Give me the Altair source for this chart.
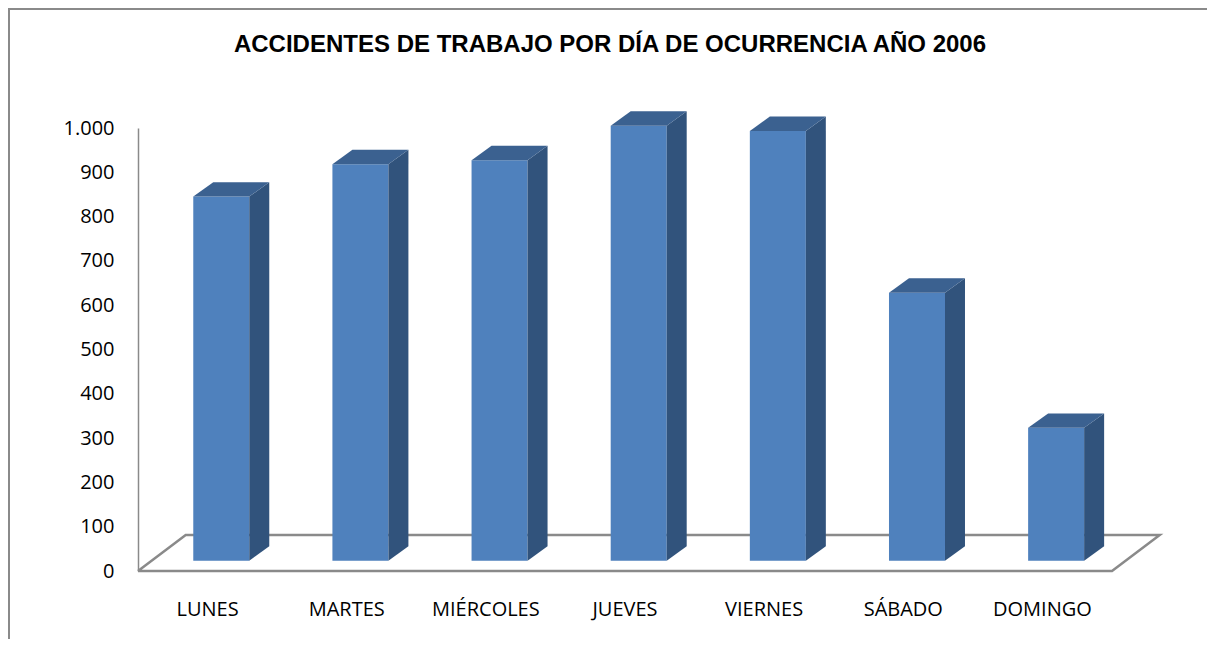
import altair as alt
import pandas as pd

# ---- data ----
dias = ["LUNES", "MARTES", "MIÉRCOLES", "JUEVES", "VIERNES", "SÁBADO", "DOMINGO"]
valores = [822, 895, 904, 982, 970, 605, 300]
y_ticks = [0, 100, 200, 300, 400, 500, 600, 700, 800, 900, 1000]
titulo = "ACCIDENTES DE TRABAJO POR DÍA DE OCURRENCIA AÑO 2006"

# ---- geometry / style (pixels) ----
W, H = 974, 443
YMAX = 1000
n = len(dias)
ux = W / n          # px per category unit
uy = H / YMAX       # px per value unit

bar_half = 28 / ux
bar_ox = 13.7 / ux
bar_oy = 10.3 / uy
dep_dx = 20 / ux
dep_dy = 14.4 / uy
floor_dx = 47.7 / ux
floor_dy = 36 / uy

FRONT = "#4F81BD"
TOP = "#3B6190"
SIDE = "#31537C"
GRAY = "#8A8A8A"

xs = alt.Scale(domain=[0, n], nice=False, zero=False)
ys = alt.Scale(domain=[0, YMAX], nice=False)

# front faces
front = pd.DataFrame({
    "dia": dias,
    "x": [i + 0.5 - bar_half + bar_ox for i in range(n)],
    "x2": [i + 0.5 + bar_half + bar_ox for i in range(n)],
    "y": [bar_oy] * n,
    "y2": [bar_oy + v for v in valores],
})

# side faces (two points per bar)
side_rows = []
for i, (d, v) in enumerate(zip(dias, valores)):
    xr = i + 0.5 + bar_half + bar_ox
    side_rows.append({"dia": d, "x": xr, "y": bar_oy, "y2": bar_oy + v})
    side_rows.append({"dia": d, "x": xr + dep_dx, "y": bar_oy + dep_dy, "y2": bar_oy + v + dep_dy})
side = pd.DataFrame(side_rows)

# top faces (two points per bar, horizontal orientation)
top_rows = []
for i, (d, v) in enumerate(zip(dias, valores)):
    xl = i + 0.5 - bar_half + bar_ox
    xr = i + 0.5 + bar_half + bar_ox
    top_rows.append({"dia": d, "y": bar_oy + v, "x": xl, "x2": xr})
    top_rows.append({"dia": d, "y": bar_oy + v + dep_dy, "x": xl + dep_dx, "x2": xr + dep_dx})
topf = pd.DataFrame(top_rows)

# floor outline
floor = pd.DataFrame({
    "x": [0, n, n + floor_dx, floor_dx, 0],
    "y": [0, 0, floor_dy, floor_dy, 0],
    "o": [0, 1, 2, 3, 4],
})

labels = pd.DataFrame({"dia": dias, "pos": [i + 0.5 for i in range(n)], "y": [0] * n})
title_df = pd.DataFrame({"t": [titulo]})

floor_layer = alt.Chart(floor).mark_line(color=GRAY, strokeWidth=2.5).encode(
    x=alt.X("x:Q", scale=xs, axis=None),
    y=alt.Y("y:Q", scale=ys),
    order="o:Q",
)

front_layer = alt.Chart(front).mark_rect(color=FRONT).encode(
    x=alt.X("x:Q", scale=xs, axis=None),
    x2="x2:Q",
    y=alt.Y("y:Q", scale=ys,
            axis=alt.Axis(values=y_ticks, ticks=False, grid=False, domain=True,
                          domainColor=GRAY, domainWidth=1.5, labelPadding=24,
                          labelFont="Open Sans", labelFontSize=20, labelColor="black",
                          labelExpr="replace(format(datum.value, ','), ',', '.')",
                          title=None)),
    y2="y2:Q",
)

side_layer = alt.Chart(side).mark_area(color=SIDE, orient="vertical").encode(
    x=alt.X("x:Q", scale=xs, axis=None),
    y=alt.Y("y:Q", scale=ys),
    y2="y2:Q",
    detail="dia:N",
)

top_layer = alt.Chart(topf).mark_area(color=TOP, orient="horizontal").encode(
    y=alt.Y("y:Q", scale=ys),
    x=alt.X("x:Q", scale=xs, axis=None),
    x2="x2:Q",
    detail="dia:N",
)

label_layer = alt.Chart(labels).mark_text(
    font="Open Sans", fontSize=20, color="black", dy=39, baseline="middle"
).encode(
    x=alt.X("pos:Q", scale=xs, axis=None),
    y=alt.Y("y:Q", scale=ys),
    text="dia:N",
)

title_layer = alt.Chart(title_df).mark_text(
    font="Liberation Sans", fontSize=24, fontWeight="bold", color="black",
    align="center", baseline="alphabetic"
).encode(
    x=alt.value(472), y=alt.value(-76), text="t:N"
)

border_left = alt.Chart(labels).mark_rule(color=GRAY, strokeWidth=2).encode(
    x=alt.value(-129), y=alt.value(-120), y2=alt.value(H + 90)
)
border_top = alt.Chart(labels).mark_rule(color=GRAY, strokeWidth=2).encode(
    x=alt.value(-130), x2=alt.value(W + 110), y=alt.value(-119)
)

chart = alt.layer(
    border_left, border_top, floor_layer, front_layer, side_layer, top_layer,
    label_layer, title_layer
).properties(
    width=W,
    height=H,
    autosize=alt.AutoSizeParams(type="none"),
    padding={"left": 130, "top": 120, "right": 95, "bottom": 68},
).configure_view(stroke=None)

chart.save("out.html", embed_options={"renderer": "svg", "actions": False})
